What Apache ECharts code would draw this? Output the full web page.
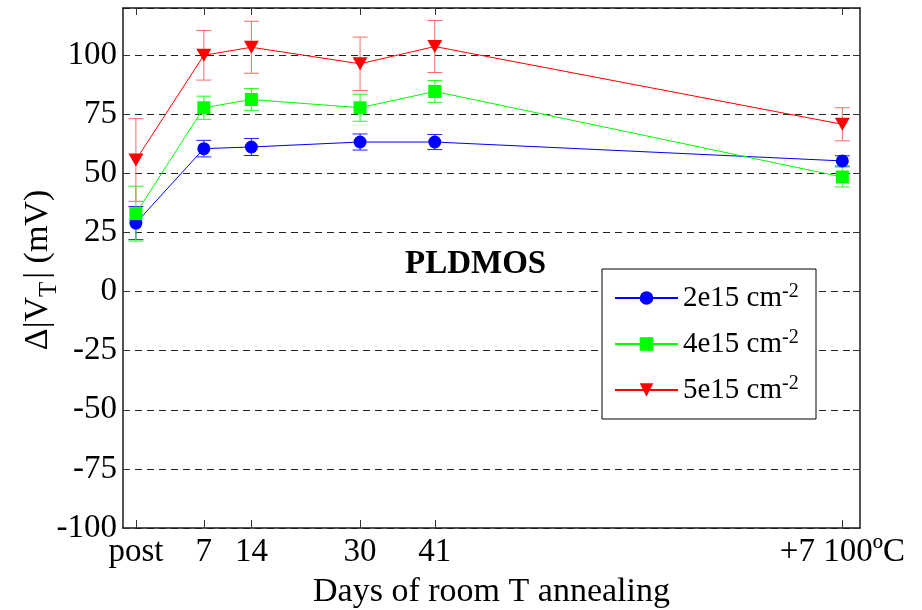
<!DOCTYPE html>
<html>
<head>
<meta charset="utf-8">
<script src="https://cdn.jsdelivr.net/npm/echarts@6/dist/echarts.min.js"></script>
<style>
html,body{margin:0;padding:0;background:#fff;}
#chart{width:922px;height:610px;}
</style>
</head>
<body>
<div id="chart"></div>
<script>
// ---- data ----
const xTickValues = [-3, 7, 14, 30, 41, 101];
const xTickLabels = ['post', '7', '14', '30', '41', '+7 100ºC'];
const xValues = [-3, 7, 14, 30, 41, 101];

const seriesNames = ['2e15 cm', '4e15 cm', '5e15 cm'];
const unitSup = '-2';
const blueValues  = [29.0, 60.5, 61.2, 63.3, 63.3, 55.3];
const blueErrors  = [7.0, 3.5, 3.6, 3.4, 3.2, 2.2];
const greenValues = [33.0, 77.8, 81.3, 77.8, 84.7, 48.5];
const greenErrors = [11.6, 4.9, 4.6, 5.7, 4.6, 4.2];
const redValues   = [55.7, 100.0, 103.4, 96.4, 103.7, 70.8];
const redErrors   = [17.5, 10.5, 11.0, 11.3, 11.0, 7.0];

const yTickMin = -100, yTickMax = 120, yTickStep = 25;
const yNameParts = ['Δ|V', 'T', '| (mV)'];

// ---- helpers ----
const FONT = 'Liberation Serif';
const ctx = document.createElement('canvas').getContext('2d');
function textW(str, font) { ctx.font = font; return ctx.measureText(str).width; }
function pts(vals) { return vals.map((v, i) => [xValues[i], v]); }
function errs(vals, e) { return vals.map((v, i) => [xValues[i], v - e[i], v + e[i]]); }

function errorSeries(data, color) {
  return {
    type: 'custom',
    xAxisIndex: 0, yAxisIndex: 0,
    z: 2,
    silent: true,
    data: data,
    renderItem: function (params, api) {
      const x = api.value(0);
      const lo = api.coord([x, api.value(1)]);
      const hi = api.coord([x, api.value(2)]);
      const hw = 7.5;
      const style = { stroke: color, lineWidth: 1, fill: null };
      return {
        type: 'group',
        children: [
          { type: 'line', shape: { x1: lo[0], y1: lo[1], x2: hi[0], y2: hi[1] }, style: style },
          { type: 'line', shape: { x1: lo[0] - hw, y1: lo[1], x2: lo[0] + hw, y2: lo[1] }, style: style },
          { type: 'line', shape: { x1: hi[0] - hw, y1: hi[1], x2: hi[0] + hw, y2: hi[1] }, style: style }
        ]
      };
    }
  };
}

function lineSeries(name, data, color, symbol, size, rotate) {
  return {
    name: name,
    type: 'line',
    xAxisIndex: 0, yAxisIndex: 0,
    z: 3,
    data: data,
    symbol: symbol,
    symbolSize: size,
    symbolRotate: rotate || 0,
    showAllSymbol: true,
    lineStyle: { color: color, width: 1 },
    itemStyle: { color: color, borderWidth: 0 },
    emphasis: { disabled: true },
    animation: false
  };
}

const axisLineStyle = { color: '#1a1a1a', width: 1.5 };
const xMin = -4.9, xMax = 103.6;

// legend geometry
const LEG_FONT = '29px "Liberation Serif"';
const SUP_FONT = '20px "Liberation Serif"';
const legLeft = 602, legTop = 269, legPadL = 12, legPadT = 11, legItemW = 63, legRowH = 36, legGap = 10;
const legTextX = legLeft + legPadL + legItemW + 5;
const nameW = Math.max.apply(null, seriesNames.map(n => textW(n, LEG_FONT)));
const legRight = 815;
const legPadR = Math.max(4, legRight - (legTextX + nameW));

const graphics = [{
  type: 'text',
  left: 405, top: 248, z: 10,
  style: { text: 'PLDMOS', font: 'bold 33px "Liberation Serif"', fill: '#000' }
}];
seriesNames.forEach(function (n, i) {
  const rowCenter = legTop + legPadT + i * (legRowH + legGap) + legRowH / 2;
  graphics.push({
    type: 'text', z: 200,
    x: legTextX + textW(n, LEG_FONT) + 1,
    y: rowCenter - 16,
    style: { text: unitSup, font: SUP_FONT, fill: '#000', verticalAlign: 'top' }
  });
});
// y axis name (rotated, with subscript)
const YN_FONT = '34px "Liberation Serif"';
const YS_FONT = '25px "Liberation Serif"';
const w0 = textW(yNameParts[0], YN_FONT), w1 = textW(yNameParts[1], YS_FONT), w2 = textW(yNameParts[2], YN_FONT);
const yNameTotal = w0 + w1 + 3 + w2;
const yNameCenterY = 270;
graphics.push({
  type: 'group',
  x: 38, y: yNameCenterY + yNameTotal / 2,
  rotation: Math.PI / 2,
  children: [
    { type: 'text', x: 0, y: 0, style: { text: yNameParts[0], font: YN_FONT, fill: '#000', verticalAlign: 'middle', align: 'left' } },
    { type: 'text', x: w0, y: 11, style: { text: yNameParts[1], font: YS_FONT, fill: '#000', verticalAlign: 'middle', align: 'left' } },
    { type: 'text', x: w0 + w1 + 3, y: 0, style: { text: yNameParts[2], font: YN_FONT, fill: '#000', verticalAlign: 'middle', align: 'left' } }
  ]
});

const chart = echarts.init(document.getElementById('chart'), null, { renderer: 'canvas' });
chart.setOption({
  animation: false,
  backgroundColor: '#fff',
  textStyle: { fontFamily: FONT },
  grid: { left: 123, right: 62, top: 8, bottom: 82, containLabel: false, outerBoundsMode: 'none' },
  graphic: graphics,
  legend: {
    orient: 'vertical',
    left: legLeft, top: legTop,
    padding: [legPadT, legPadR, legPadT, legPadL],
    itemGap: legGap,
    itemWidth: legItemW, itemHeight: 17,
    backgroundColor: '#fff',
    borderColor: '#000', borderWidth: 1,
    borderRadius: 0,
    z: 100,
    data: seriesNames,
    textStyle: { fontFamily: FONT, fontSize: 29, lineHeight: legRowH, color: '#000' }
  },
  xAxis: [{
    type: 'value',
    min: xMin, max: xMax,
    position: 'bottom',
    axisLine: { show: true, onZero: false, lineStyle: axisLineStyle },
    axisTick: { show: true, inside: true, length: 8, customValues: xTickValues, lineStyle: { color: '#333', width: 1 } },
    axisLabel: {
      show: true, customValues: xTickValues, margin: 8,
      fontFamily: FONT, fontSize: 33, color: '#000',
      formatter: function (v) { const i = xTickValues.indexOf(v); return i >= 0 ? xTickLabels[i] : ''; }
    },
    splitLine: { show: false },
    name: 'Days of room T annealing',
    nameLocation: 'middle',
    nameGap: 47,
    nameMoveOverlap: false,
    nameTextStyle: { fontFamily: FONT, fontSize: 34, color: '#000' }
  }, {
    type: 'value',
    min: xMin, max: xMax,
    position: 'top',
    axisLine: { show: true, onZero: false, lineStyle: axisLineStyle },
    axisTick: { show: true, inside: true, length: 7, customValues: xTickValues, lineStyle: { color: '#333', width: 1 } },
    axisLabel: { show: false },
    splitLine: { show: false }
  }],
  yAxis: [{
    type: 'value',
    min: yTickMin, max: yTickMax, interval: yTickStep,
    position: 'left',
    axisLine: { show: true, onZero: false, lineStyle: axisLineStyle },
    axisTick: { show: true, inside: true, length: 7, lineStyle: { color: '#333' } },
    axisLabel: {
      show: true, margin: 6, showMaxLabel: false,
      fontFamily: FONT, fontSize: 33, color: '#000',
      formatter: function (v) { return v === yTickMax ? '' : String(v); }
    },
    splitLine: { show: true, lineStyle: { color: '#222', width: 1, type: [7, 5] } }
  }, {
    type: 'value',
    min: yTickMin, max: yTickMax, interval: yTickStep,
    position: 'right',
    axisLine: { show: true, onZero: false, lineStyle: axisLineStyle },
    axisTick: { show: true, inside: true, length: 7, lineStyle: { color: '#333' } },
    axisLabel: { show: false },
    splitLine: { show: false }
  }],
  series: [
    errorSeries(errs(blueValues, blueErrors), '#2020ff'),
    errorSeries(errs(greenValues, greenErrors), '#20ff20'),
    errorSeries(errs(redValues, redErrors), '#ff6a6a'),
    lineSeries(seriesNames[0], pts(blueValues), '#0000ff', 'circle', 13),
    lineSeries(seriesNames[1], pts(greenValues), '#00ff00', 'rect', 13),
    lineSeries(seriesNames[2], pts(redValues), '#ff0000', 'triangle', [15, 13], 180)
  ]
});
</script>
</body>
</html>
